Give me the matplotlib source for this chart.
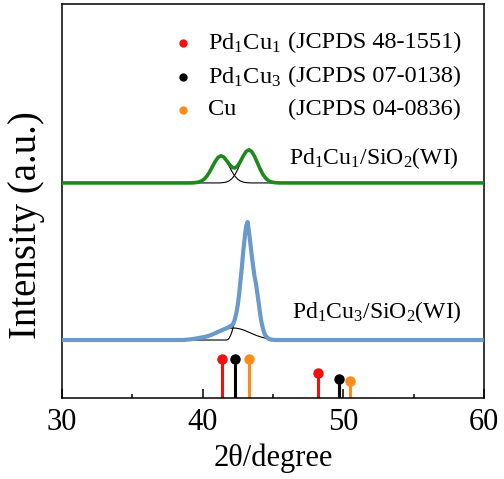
import matplotlib

matplotlib.use("Agg")
import matplotlib.pyplot as plt

plt.rcParams["font.family"] = ["Liberation Serif", "DejaVu Serif"]
plt.rcParams["mathtext.fontset"] = "custom"
plt.rcParams["mathtext.rm"] = "Liberation Serif"
plt.rcParams["mathtext.it"] = "Liberation Serif:italic"

# --- Pd1Cu1/SiO2(WI): measured trace and two fitted components ---
x_g = [39.1, 39.3, 39.5, 39.7, 39.9, 40.1, 40.3, 40.5, 40.7, 40.9, 41.1,
       41.3, 41.5, 41.7, 41.9, 42.1, 42.3, 42.5, 42.7, 42.9, 43.1, 43.3,
       43.5, 43.7, 43.9, 44.1, 44.3, 44.5, 44.7, 44.9, 45.1, 45.3, 45.5]
g_total = [0.0, 0.1, 0.3, 0.8, 1.8, 3.7, 6.7, 11.1, 16.4, 21.6, 25.5,
           27.1, 25.9, 22.5, 18.6, 15.6, 14.9, 17.3, 21.8, 27.2, 31.5, 33.1,
           31.2, 26.4, 20.0, 13.6, 8.2, 4.5, 2.2, 0.9, 0.4, 0.1, 0.0]
g_fit1 = [0.0, 0.1, 0.3, 0.8, 1.8, 3.7, 6.7, 11.1, 16.4, 21.6, 25.5,
          27.0, 25.5, 21.6, 16.4, 11.1, 6.7, 3.7, 1.8, 0.8, 0.3, 0.1,
          0.0, 0.0, 0.0, 0.0, 0.0, 0.0, 0.0, 0.0, 0.0, 0.0, 0.0]
g_fit2 = [0.0, 0.0, 0.0, 0.0, 0.0, 0.0, 0.0, 0.0, 0.0, 0.0, 0.0,
          0.1, 0.4, 0.9, 2.2, 4.5, 8.2, 13.6, 20.0, 26.4, 31.2, 33.0,
          31.2, 26.4, 20.0, 13.6, 8.2, 4.5, 2.2, 0.9, 0.4, 0.1, 0.0]

# --- Pd1Cu3/SiO2(WI): measured trace ---
x_b = [30.0, 38.6, 39.0, 39.4, 39.8, 40.2, 40.6, 41.0, 41.4, 41.8, 42.0,
       42.1, 42.2, 42.3, 42.4, 42.5, 42.6, 42.7, 42.8, 42.9, 43.0, 43.1,
       43.2, 43.3, 43.4, 43.5, 43.6, 43.7, 43.8, 43.9, 44.0, 44.1, 44.2,
       44.3, 44.4, 44.5, 44.6, 44.7, 44.8, 45.0, 45.2, 60.0]
b_total = [0.0, 0.0, 0.5, 1.2, 2.2, 3.2, 5.0, 7.5, 10.0, 12.5, 14.0,
           15.0, 17.0, 21.0, 27.0, 35.0, 46.0, 60.0, 74.0, 90.0, 103.0, 114.0,
           118.0, 108.0, 96.0, 84.0, 73.0, 63.0, 56.0, 46.0, 36.0, 25.0, 17.0,
           11.0, 6.5, 4.0, 2.5, 1.3, 0.6, 0.2, 0.0, 0.0]

# broad component (Pd1Cu3 fit)
x_b_broad = [38.6, 38.8, 39.0, 39.2, 39.4, 39.6, 39.8, 40.0, 40.2, 40.4,
             40.6, 40.8, 41.0, 41.2, 41.4, 41.6, 41.8, 42.0, 42.2, 42.4,
             42.6, 42.8, 43.0, 43.2, 43.4, 43.6, 43.8, 44.0, 44.2, 44.4,
             44.6, 44.8, 45.0, 45.2, 45.4, 45.6, 45.8]
b_broad = [0.1, 0.2, 0.3, 0.5, 0.7, 1.0, 1.5, 2.1, 2.8, 3.7,
           4.7, 5.9, 7.1, 8.3, 9.5, 10.5, 11.3, 11.8, 12.0, 11.8,
           11.3, 10.5, 9.5, 8.3, 7.1, 5.9, 4.7, 3.7, 2.8, 2.1,
           1.5, 1.0, 0.7, 0.5, 0.3, 0.2, 0.1]

# narrow component (Pd1Cu3 fit)
x_b_narrow = [39.0, 41.7, 41.8, 41.9, 42.0, 42.1, 42.2, 42.3, 42.4, 42.5,
              42.6, 42.7, 42.8, 42.9, 43.0, 43.1, 43.2, 43.3, 43.4, 43.5,
              43.6, 43.7, 43.8, 43.9, 44.0, 44.1, 44.2, 44.3, 44.4, 44.5,
              44.6, 44.7, 44.8, 45.6]
b_narrow = [0.0, 0.0, 0.5, 2.0, 5.0, 9.0, 14.0, 18.5, 24.0, 32.0,
            43.0, 57.0, 71.0, 87.0, 100.0, 110.0, 114.0, 104.0, 92.0, 80.0,
            69.0, 59.0, 50.0, 40.0, 30.0, 21.0, 13.0, 7.5, 4.0, 2.0,
            1.0, 0.4, 0.0, 0.0]

# reference patterns (JCPDS)
ref_names = [r"Pd$_1$Cu$_1$", r"Pd$_1$Cu$_3$", "Cu"]
ref_cards = ["(JCPDS 48-1551)", "(JCPDS 07-0138)", "(JCPDS 04-0836)"]
ref_colors = ["#f01010", "#000000", "#ff8c1a"]
ref_pos = [[41.35, 48.2], [42.3, 49.7], [43.3, 50.45]]
ref_int = [[39, 25], [39, 19], [39, 17]]

GREEN_OFFSET = 215
BLUE_OFFSET = 58

fig = plt.figure(figsize=(5.04, 4.79), dpi=100)
ax = fig.add_axes([0.123, 0.169, 0.837, 0.823])

# green trace, padded with flat baseline to the axis ends
gx = [30.0] + x_g + [60.0]
gy = [GREEN_OFFSET] + [GREEN_OFFSET + v for v in g_total] + [GREEN_OFFSET]
ax.plot(gx, gy, color="#1b8a1b", lw=2.6, solid_capstyle="butt", zorder=3)
ax.plot(x_g, [GREEN_OFFSET + v for v in g_fit1], color="black", lw=0.8, zorder=2)
ax.plot(x_g, [GREEN_OFFSET + v for v in g_fit2], color="black", lw=0.8, zorder=2)

ax.plot(x_b, [BLUE_OFFSET + v for v in b_total], color="#6a9acb", lw=3.0,
        solid_capstyle="butt", zorder=3)
ax.plot(x_b_broad, [BLUE_OFFSET + v for v in b_broad], color="black", lw=0.8, zorder=2)
ax.plot(x_b_narrow, [BLUE_OFFSET + v for v in b_narrow], color="black", lw=0.8, zorder=2)

# reference stick patterns
for pos, inten, c in zip(ref_pos, ref_int, ref_colors):
    ax.vlines(pos, 0, inten, color=c, lw=2.2, zorder=2)
    ax.plot(pos, inten, "o", color=c, ms=6.5, zorder=2)

# manual legend
leg_y = [355, 321, 288]
for name, card, c, y in zip(ref_names, ref_cards, ref_colors, leg_y):
    ax.plot([38.6], [y], "o", color=c, ms=5)
    ax.text(40.35, y, name, fontsize=17.5, va="center", ha="left")
    ax.text(46.1, y, card, fontsize=17.5, va="center", ha="left")

ax.text(58.2, 240, r"Pd$_1$Cu$_1$/SiO$_2$(WI)", fontsize=17, ha="right", va="center")
ax.text(58.4, 86, r"Pd$_1$Cu$_3$/SiO$_2$(WI)", fontsize=17, ha="right", va="center")

ax.set_xlim(30, 60)
ax.set_ylim(0, 394)
ax.set_xticks([30, 40, 50, 60])
ax.set_xticks([35, 45, 55], minor=True)
ax.set_yticks([])
ax.tick_params(axis="x", which="major", direction="in", length=6.5, width=1.1,
               labelsize=22, pad=7)
ax.tick_params(axis="x", which="minor", direction="in", length=3, width=1.1)
for sp in ax.spines.values():
    sp.set_linewidth(1.1)

ax.set_xlabel("2θ/degree", fontsize=22, labelpad=5)
ax.set_ylabel("Intensity (a.u.)", fontsize=28)
ax.yaxis.set_label_coords(-0.04, 0.44)

fig.savefig("out.png", dpi=100)
